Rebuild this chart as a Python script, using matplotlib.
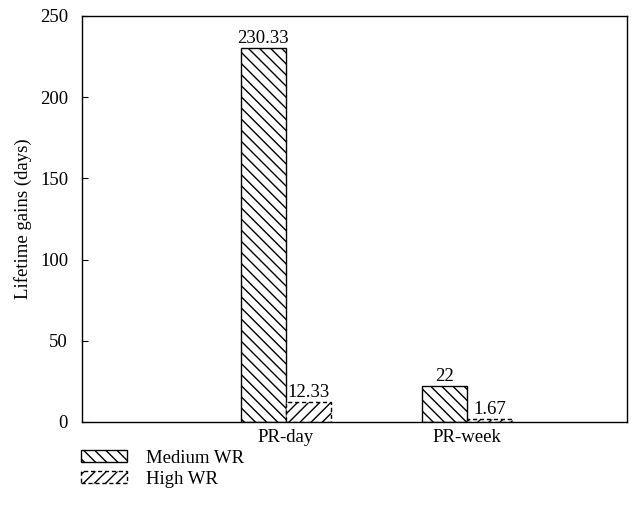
import matplotlib
matplotlib.use("Agg")
import matplotlib.pyplot as plt
import numpy as np

categories = ["PR-day", "PR-week"]
medium_wr = [230.33, 22]
high_wr = [12.33, 1.67]
medium_labels = ["230.33", "22"]
high_labels = ["12.33", "1.67"]

plt.rcParams["font.family"] = ["Liberation Serif", "DejaVu Serif"]
plt.rcParams["hatch.linewidth"] = 1.0

fig = plt.figure(figsize=(6.35, 5.19), dpi=100)
ax = fig.add_axes([82 / 635, 1 - 422 / 519, 545 / 635, 406 / 519])

x = np.arange(1, len(categories) + 1)
w = 0.25
b1 = ax.bar(x - w / 2, medium_wr, w, color="white", edgecolor="black",
            hatch="\\\\\\", linewidth=1.0, label="Medium WR")
b2 = ax.bar(x + w / 2, high_wr, w, color="white", edgecolor="black",
            hatch="///", linewidth=1.0, linestyle=(0, (3, 2)), label="High WR")

fs = 13.5
for rect, lab in zip(b1, medium_labels):
    ax.text(rect.get_x() + rect.get_width() / 2, rect.get_height() + 0.5, lab,
            ha="center", va="bottom", fontsize=fs)
for rect, lab in zip(b2, high_labels):
    ax.text(rect.get_x() + rect.get_width() / 2, rect.get_height() + 0.5, lab,
            ha="center", va="bottom", fontsize=fs)

ax.set_xlim(-0.127, 2.884)
ax.set_ylim(0, 250)
ax.set_yticks([0, 50, 100, 150, 200, 250])
ax.set_xticks(x)
ax.set_xticklabels(categories)
ax.tick_params(axis="x", length=0, labelsize=fs, pad=5)
ax.tick_params(axis="y", direction="in", length=4, labelsize=fs, pad=10, right=False)
ax.set_ylabel("Lifetime gains (days)", fontsize=fs, labelpad=6)
for s in ax.spines.values():
    s.set_linewidth(1.0)

fig.legend(handles=[b1, b2], loc="upper left", bbox_to_anchor=(64 / 635, 1 - 433 / 519),
           frameon=False, fontsize=fs, handlelength=2.45, handleheight=0.6,
           labelspacing=0.2, handletextpad=1.0)

fig.savefig("out.png", dpi=100)
